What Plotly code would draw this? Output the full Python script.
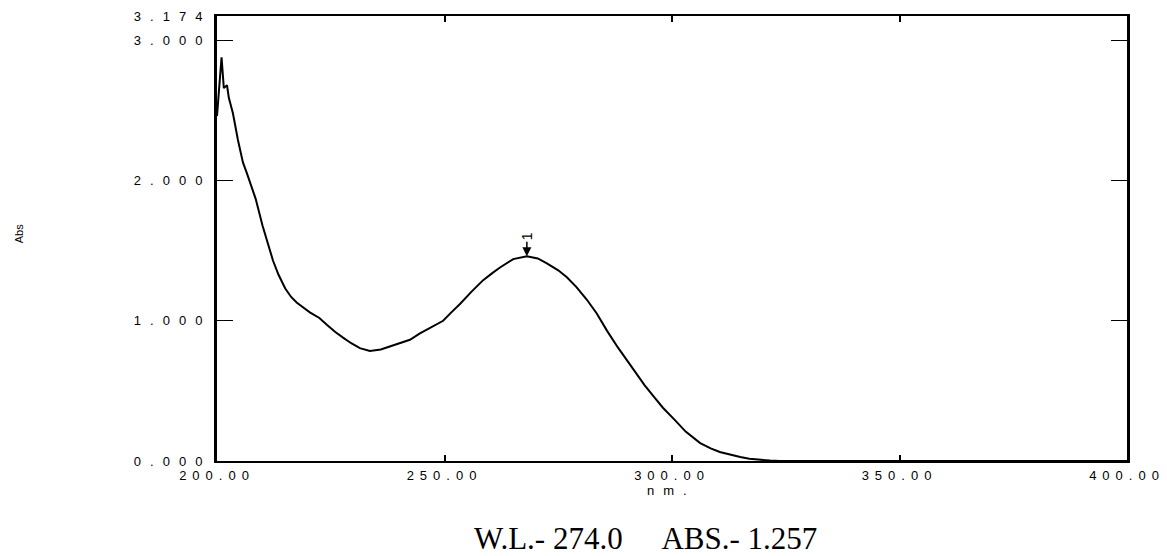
import plotly.graph_objects as go

# ---- data ----
wavelength_nm = [200.0, 200.5, 201.0, 201.5, 202.2, 202.6, 203.5, 204.6, 205.7, 206.6,
                 207.5, 208.5, 210.0, 211.2, 212.3, 213.5, 215.0, 216.3, 217.5, 220.4,
                 222.5, 224.2, 226.0, 227.7, 229.5, 231.4, 233.6, 236.0, 238.7, 240.2,
                 242.4, 244.6, 247.0, 249.7, 251.5, 253.4, 256.0, 258.5, 260.5, 262.2,
                 265.1, 268.1, 270.5, 272.5, 275.0, 276.9, 279.0, 281.3, 283.5, 285.7,
                 288.1, 290.0, 292.0, 294.0, 296.0, 298.0, 300.7, 303.0, 306.2, 308.5,
                 310.5, 313.0, 315.0, 317.0, 319.3, 321.5, 323.7, 330.0, 350.0, 370.0,
                 400.0]
absorbance = [2.46, 2.68, 2.88, 2.66, 2.68, 2.59, 2.48, 2.29, 2.13, 2.05,
              1.97, 1.87, 1.68, 1.54, 1.43, 1.33, 1.23, 1.17, 1.13, 1.06,
              1.02, 0.97, 0.92, 0.88, 0.84, 0.805, 0.784, 0.795, 0.826, 0.845,
              0.865, 0.91, 0.95, 1.00, 1.06, 1.12, 1.21, 1.29, 1.34, 1.38,
              1.44, 1.46, 1.445, 1.41, 1.36, 1.31, 1.24, 1.15, 1.05, 0.93,
              0.81, 0.72, 0.63, 0.54, 0.46, 0.38, 0.29, 0.21, 0.128, 0.09,
              0.064, 0.042, 0.028, 0.016, 0.007, 0.003, 0.0, 0.0, 0.0, 0.0,
              0.0]

x_tick_values = [200, 250, 300, 350, 400]
x_tick_labels = ["200.00", "250.00", "300.00", "350.00", "400.00"]
y_tick_values = [0, 1, 2, 3, 3.174]
y_tick_labels = ["0.000", "1.000", "2.000", "3.000", "3.174"]
x_axis_label = "nm."
y_axis_label = "Abs"
peak_label = "1"
footer_text = "W.L.- 274.0\u00a0\u00a0\u00a0\u00a0\u00a0ABS.- 1.257"


def spaced(s, px=9):
    return f'<span style="letter-spacing:{px}px">{s}</span>'


# peak of the main band (beyond the 240 nm minimum)
band = [(a, w) for w, a in zip(wavelength_nm, absorbance) if w > 240]
peak_abs, peak_wl = max(band)

tick_font = dict(family="Liberation Sans, Arial, sans-serif", size=13, color="black")

fig = go.Figure()
fig.add_trace(go.Scatter(
    x=wavelength_nm, y=absorbance, mode="lines",
    line=dict(color="black", width=2), showlegend=False, hoverinfo="skip"))

fig.update_layout(
    width=1167, height=556,
    margin=dict(l=217, r=40, t=16, b=95, pad=0),
    paper_bgcolor="white", plot_bgcolor="white",
    showlegend=False,
    xaxis=dict(
        range=[200, 400], tickmode="array", tickvals=x_tick_values,
        ticktext=[spaced(t, 6) for t in x_tick_labels],
        ticks="inside", ticklen=6, tickwidth=1.5, tickcolor="black",
        showline=True, linewidth=2, linecolor="black", mirror="ticks",
        showgrid=False, zeroline=False, tickfont=tick_font, automargin=False,
        ticklabelstandoff=1, ticklabeloverflow="allow",
    ),
    yaxis=dict(
        range=[0, 3.174], tickmode="array", tickvals=y_tick_values,
        ticktext=[spaced(t) for t in y_tick_labels],
        ticks="inside", ticklen=16, tickwidth=1, tickcolor="black",
        showline=True, linewidth=3, linecolor="black", mirror="ticks",
        showgrid=False, zeroline=False, tickfont=tick_font, automargin=False,
        ticklabelstandoff=0, ticklabeloverflow="allow",
    ),
)

fig.add_annotation(
    x=peak_wl, y=peak_abs, xref="x", yref="y",
    text=peak_label, textangle=-90, showarrow=True,
    ax=0, ay=-20, arrowhead=2, arrowsize=1.2, arrowwidth=1.5, arrowcolor="black",
    font=dict(family="Liberation Sans, Arial, sans-serif", size=14, color="black"),
)

fig.add_annotation(
    x=0.499, y=-0.066, xref="paper", yref="paper",
    text=spaced(x_axis_label, 9), showarrow=False,
    xanchor="center", yanchor="middle",
    font=tick_font,
)

fig.add_annotation(
    x=-0.218, y=0.511, xref="paper", yref="paper",
    text=y_axis_label, textangle=-90, showarrow=False,
    xanchor="center", yanchor="middle",
    font=dict(family="Liberation Sans, Arial, sans-serif", size=11, color="black"),
)

fig.add_annotation(
    x=(472 - 217) / 910, y=-0.175, xref="paper", yref="paper",
    text=footer_text, showarrow=False,
    xanchor="left", yanchor="middle",
    font=dict(family="Liberation Serif, Times New Roman, serif", size=31, color="black"),
)

fig.write_html("out.html")
